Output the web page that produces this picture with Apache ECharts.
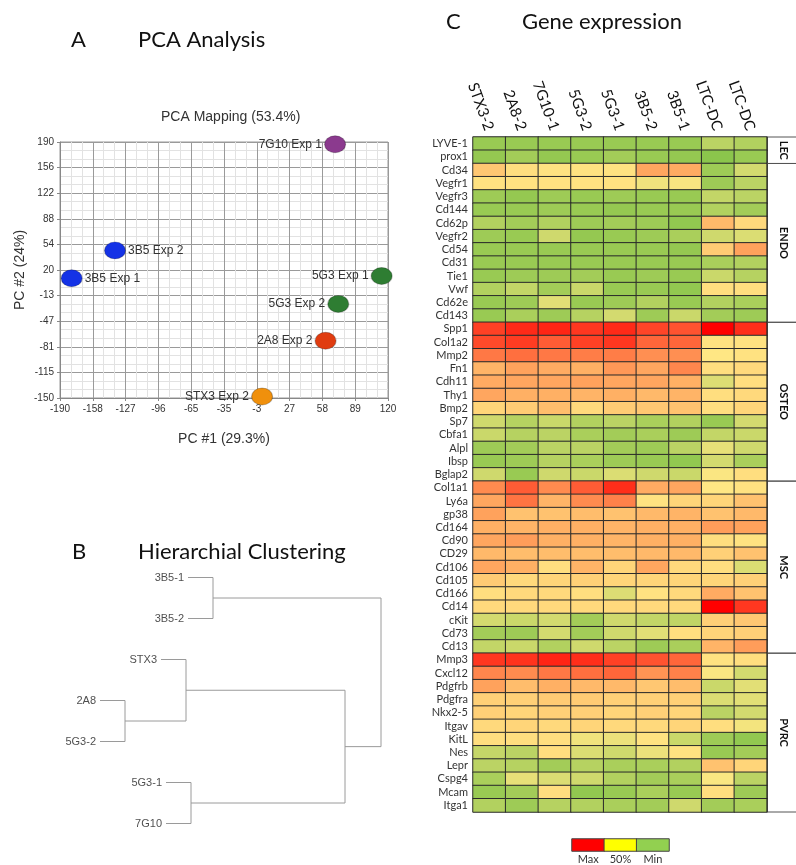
<!DOCTYPE html>
<html><head><meta charset="utf-8">
<script src="https://cdn.jsdelivr.net/npm/echarts@6/dist/echarts.min.js"></script>
<style>html,body{margin:0;padding:0;background:#fff}#c{width:796px;height:865px}</style>
</head><body><div id="c"></div>
<script>
// ---------- PCA ----------
const pcaNames = ['7G10 Exp 1','3B5 Exp 2','3B5 Exp 1','5G3 Exp 1','5G3 Exp 2','2A8 Exp 2','STX3 Exp 2'];
const pc1 = [70, -138, -179, 114, 73, 61, 1];
const pc2 = [187, 46, 9, 12, -25, -74, -148];
const pcaColors = ['#8b3a8e','#1432e6','#1432e6','#2e7d32','#2e7d32','#e03c10','#f0900c'];
const pcaLabelSide = ['left','right','right','left','left','left','left'];
const pc1Ticks = ['-190','-158','-127','-96','-65','-35','-3','27','58','89','120'];
const pc2Ticks = ['-150','-115','-81','-47','-13','20','54','88','122','156','190'];

// ---------- Dendrogram ----------
const leaves = ['3B5-1','3B5-2','STX3','2A8','5G3-2','5G3-1','7G10'];
// [childA, childB, merge height]; 'L#' = leaf index, 'M#' = merge index
const merges = [
  ['L3','L4',25],
  ['L2','M0',86],
  ['L5','L6',91],
  ['L0','L1',113],
  ['M1','M2',245],
  ['M3','M4',281]
];
const leafHang = 25;

// ---------- Heatmap ----------
const sampleNames = ['STX3-2','2A8-2','7G10-1','5G3-2','5G3-1','3B5-2','3B5-1','LTC-DC','LTC-DC'];
const lecGenes = ['LYVE-1','prox1'];
const lecValues = [
  [8,8,8,8,8,8,8,22,18],
  [6,12,6,8,12,8,6,2,8]
];
const endoGenes = ['Cd34','Vegfr1','Vegfr3','Cd144','Cd62p','Vegfr2','Cd54','Cd31','Tie1','Vwf','Cd62e','Cd143'];
const endoValues = [
  [57,52,51,51,51,64,63,10,32],
  [51,51,51,51,51,44,47,10,22],
  [10,6,10,8,10,8,8,25,22],
  [8,8,10,8,6,8,8,18,12],
  [18,12,18,10,12,10,5,60,53],
  [10,8,30,6,8,10,15,30,35],
  [8,8,8,8,8,8,6,56,65],
  [8,8,8,8,8,8,8,15,18],
  [8,10,10,12,8,10,8,28,20],
  [18,25,12,28,8,8,5,52,52],
  [8,10,38,8,10,18,8,18,15],
  [8,15,10,20,32,10,28,12,10]
];
const osteoGenes = ['Spp1','Col1a2','Mmp2','Fn1','Cdh11','Thy1','Bmp2','Sp7','Cbfa1','Alpl','Ibsp','Bglap2'];
const osteoValues = [
  [86,91,92,88,91,85,82,100,90],
  [84,87,80,86,88,78,78,51,51],
  [74,76,74,73,73,69,69,50,51],
  [61,65,63,62,67,64,71,52,53],
  [63,64,64,65,64,64,62,36,52],
  [64,62,62,61,62,60,61,52,53],
  [54,56,59,53,56,57,58,52,54],
  [30,20,28,18,22,15,18,8,32],
  [28,20,22,15,12,15,10,25,28],
  [10,12,22,22,12,10,22,40,30],
  [8,10,20,15,10,8,5,32,15],
  [30,8,30,28,35,30,28,48,52]
];
const mscGenes = ['Col1a1','Ly6a','gp38','Cd164','Cd90','CD29','Cd106','Cd105','Cd166','Cd14','cKit','Cd73','Cd13'];
const mscValues = [
  [70,80,70,80,90,63,64,50,51],
  [64,75,61,70,72,51,54,54,58],
  [65,58,58,59,58,60,61,58,60],
  [62,61,62,62,61,62,62,66,65],
  [64,66,62,62,61,62,62,52,51],
  [60,59,59,59,59,60,60,55,58],
  [64,62,52,61,54,64,53,52,35],
  [56,53,54,55,54,54,54,54,55],
  [52,53,53,52,36,51,53,63,58],
  [53,53,53,53,53,53,53,100,88],
  [32,28,32,12,30,25,24,55,57],
  [12,10,32,12,30,38,52,54,55],
  [25,28,18,30,22,10,15,61,66]
];
const pvrcGenes = ['Mmp3','Cxcl12','Pdgfrb','Pdgfra','Nkx2-5','Itgav','KitL','Nes','Lepr','Cspg4','Mcam','Itga1'];
const pvrcValues = [
  [88,89,92,90,86,82,78,51,52],
  [71,70,74,76,78,68,72,48,32],
  [65,59,62,60,60,57,59,28,38],
  [55,55,56,56,55,55,55,35,38],
  [55,54,55,55,54,55,54,22,32],
  [53,54,53,54,53,53,54,52,45],
  [52,52,52,44,42,51,28,10,5],
  [26,22,52,35,30,42,51,8,12],
  [22,20,12,20,15,15,18,58,54],
  [15,40,35,30,18,12,15,48,22],
  [8,12,52,5,8,15,8,52,10],
  [18,10,20,18,15,12,30,12,15]
];
const groupNames = ['LEC','ENDO','OSTEO','MSC','PVRC'];
const groupGenes = [lecGenes, endoGenes, osteoGenes, mscGenes, pvrcGenes];
const groupValues = [lecValues, endoValues, osteoValues, mscValues, pvrcValues];
const scaleLabels = ['Max','50%','Min'];

// ---------- build ----------
const genes = [].concat(...groupGenes);
const allValues = [].concat(...groupValues);
const heatData = [];
allValues.forEach((row, r) => row.forEach((v, c) => heatData.push([c, r, v])));
const groupRanges = [];
let acc = 0;
groupGenes.forEach((g, i) => { groupRanges.push([sampleNames.length - 1, acc, acc + g.length - 1]); acc += g.length; });

// dendrogram geometry from merges
const nodes = {};
leaves.forEach((n, i) => nodes['L' + i] = {y: i, x: null});
const segs = [];
merges.forEach((m, i) => {
  const a = nodes[m[0]], b = nodes[m[1]], h = m[2];
  if (a.x === null) a.x = h - leafHang;
  if (b.x === null) b.x = h - leafHang;
  nodes['M' + i] = {x: h, y: (a.y + b.y) / 2};
  segs.push({coords: [[a.x, a.y], [h, a.y], [h, b.y], [b.x, b.y]]});
});
const leafLabelData = leaves.map((n, i) => ({name: n, value: [nodes['L' + i].x, i]}));

const pcaData = pcaNames.map((n, i) => ({
  name: n, value: [pc1[i], pc2[i]],
  itemStyle: {color: pcaColors[i]},
  label: {position: pcaLabelSide[i]}
}));

const titleFont = 'Lato, "Open Sans", sans-serif';
const plotFont = '"Liberation Sans", Arial, sans-serif';

const chart = echarts.init(document.getElementById('c'), null, {renderer: 'canvas'});
chart.setOption({
  backgroundColor: '#fff',
  animation: false,
  title: [
    {text: 'A', left: 66, top: 24, textStyle: {fontFamily: titleFont, fontSize: 22, fontWeight: 'normal', color: '#111'}},
    {text: 'PCA Analysis', left: 133, top: 24, textStyle: {fontFamily: titleFont, fontSize: 22, fontWeight: 'normal', color: '#111'}},
    {text: 'PCA Mapping (53.4%)', left: 156, top: 105, textStyle: {fontFamily: plotFont, fontSize: 14, fontWeight: 'normal', color: '#333'}},
    {text: 'B', left: 67, top: 536, textStyle: {fontFamily: titleFont, fontSize: 22, fontWeight: 'normal', color: '#111'}},
    {text: 'Hierarchial Clustering', left: 133, top: 536, textStyle: {fontFamily: titleFont, fontSize: 22, fontWeight: 'normal', color: '#111'}},
    {text: 'C', left: 441, top: 6, textStyle: {fontFamily: titleFont, fontSize: 22, fontWeight: 'normal', color: '#111'}},
    {text: 'Gene expression', left: 517, top: 6, textStyle: {fontFamily: titleFont, fontSize: 22, fontWeight: 'normal', color: '#111'}}
  ],
  grid: [
    {left: 60, top: 142, width: 328, height: 256, show: true, borderColor: '#999', borderWidth: 1},
    {left: 100, top: 557, width: 300, height: 287},
    {left: 473, top: 137, width: 294, height: 675},
    {left: 572, top: 839, width: 97, height: 13}
  ],
  xAxis: [
    {type: 'value', gridIndex: 0, min: -190, max: 120, interval: 31,
     name: 'PC #1 (29.3%)', nameLocation: 'middle', nameGap: 34,
     nameTextStyle: {fontFamily: plotFont, fontSize: 14, color: '#333'},
     axisLine: {show: true, onZero: false, lineStyle: {color: '#888'}},
     axisTick: {show: true, length: 3, lineStyle: {color: '#888'}},
     axisLabel: {fontFamily: plotFont, fontSize: 10, color: '#333', margin: 6,
       formatter: v => pc1Ticks[Math.round((v + 190) / 31)] || ''},
     splitLine: {show: true, lineStyle: {color: '#9a9a9a'}},
     minorTick: {show: true, splitNumber: 3, length: 0, lineStyle: {opacity: 0}},
     minorSplitLine: {show: true, lineStyle: {color: '#e2e2e2'}}},
    {type: 'value', gridIndex: 1, min: 0, max: 300, show: false},
    {type: 'category', gridIndex: 2, position: 'top', data: sampleNames,
     axisLine: {show: false}, axisTick: {show: false},
     axisLabel: {interval: 0, rotate: 70, margin: 7, fontFamily: titleFont, fontSize: 15, color: '#111'}},
    {type: 'category', gridIndex: 3, data: scaleLabels,
     axisLine: {show: false}, axisTick: {show: false},
     axisLabel: {interval: 0, margin: 3, fontFamily: titleFont, fontSize: 11, color: '#333'}}
  ],
  yAxis: [
    {type: 'value', gridIndex: 0, min: -150, max: 190, interval: 34,
     name: 'PC #2 (24%)', nameLocation: 'middle', nameGap: 33,
     nameTextStyle: {fontFamily: plotFont, fontSize: 14, color: '#333'},
     axisLine: {show: true, onZero: false, lineStyle: {color: '#888'}},
     axisTick: {show: true, length: 3, lineStyle: {color: '#888'}},
     axisLabel: {fontFamily: plotFont, fontSize: 10, color: '#333', margin: 6,
       formatter: v => pc2Ticks[Math.round((v + 150) / 34)] || ''},
     splitLine: {show: true, lineStyle: {color: '#9a9a9a'}},
     minorTick: {show: true, splitNumber: 3, length: 0, lineStyle: {opacity: 0}},
     minorSplitLine: {show: true, lineStyle: {color: '#e2e2e2'}}},
    {type: 'value', gridIndex: 1, min: -0.5, max: 6.5, inverse: true, show: false},
    {type: 'category', gridIndex: 2, data: genes, inverse: true,
     axisLine: {show: false}, axisTick: {show: false},
     axisLabel: {interval: 0, margin: 5, fontFamily: titleFont, fontSize: 11, color: '#333'}},
    {type: 'category', gridIndex: 3, data: [''], show: false}
  ],
  visualMap: {
    type: 'continuous', show: false, min: 0, max: 100, seriesIndex: 3,
    inRange: {color: ['#86c44a', '#ffe784', '#ff0000']}
  },
  series: [
    {type: 'scatter', xAxisIndex: 0, yAxisIndex: 0, data: pcaData, clip: false,
     symbol: 'circle', symbolSize: [21, 17],
     itemStyle: {borderColor: 'rgba(0,0,0,0.25)', borderWidth: 1, opacity: 1},
     label: {show: true, formatter: '{b}', fontFamily: plotFont, fontSize: 12, color: '#333', distance: 2}},
    {type: 'lines', coordinateSystem: 'cartesian2d', xAxisIndex: 1, yAxisIndex: 1,
     polyline: true, silent: true, data: segs,
     lineStyle: {color: '#9a9a9a', width: 1, opacity: 1}},
    {type: 'scatter', xAxisIndex: 1, yAxisIndex: 1, data: leafLabelData, symbolSize: 0, silent: true,
     label: {show: true, position: 'left', distance: 4, formatter: '{b}', fontFamily: plotFont, fontSize: 11, color: '#222'}},
    {type: 'heatmap', xAxisIndex: 2, yAxisIndex: 2, data: heatData, silent: true,
     itemStyle: {borderColor: '#2a2a2a', borderWidth: 1}},
    {type: 'heatmap', xAxisIndex: 3, yAxisIndex: 3, silent: true,
     data: [
       {value: [0, 0, 1], itemStyle: {color: '#ff0000'}},
       {value: [1, 0, 1], itemStyle: {color: '#ffff00'}},
       {value: [2, 0, 1], itemStyle: {color: '#92d050'}}
     ],
     itemStyle: {borderColor: '#444', borderWidth: 1}},
    {type: 'custom', xAxisIndex: 2, yAxisIndex: 2, clip: false, silent: true,
     data: groupRanges, encode: {x: 0, y: 1},
     renderItem: function (params, api) {
       const c = api.value(0), s = api.value(1), e = api.value(2);
       const p1 = api.coord([c, s]), p2 = api.coord([c, e]);
       const sz = api.size([1, 1]);
       const right = p1[0] + sz[0] / 2;
       const top = p1[1] - sz[1] / 2, bottom = p2[1] + sz[1] / 2;
       const far = api.getWidth();
       return {type: 'group', children: [
         {type: 'line', shape: {x1: right, y1: top, x2: far, y2: top}, style: {stroke: '#555', lineWidth: 1}},
         {type: 'line', shape: {x1: right, y1: bottom, x2: far, y2: bottom}, style: {stroke: '#555', lineWidth: 1}},
         {type: 'line', shape: {x1: right, y1: top, x2: right, y2: bottom}, style: {stroke: '#222', lineWidth: 1}},
         {type: 'text', x: right + 17, y: (top + bottom) / 2, rotation: -Math.PI / 2,
          style: {text: groupNames[params.dataIndex], align: 'center', verticalAlign: 'middle',
                  font: 'bold 11px ' + titleFont, fill: '#111'}}
       ]};
     }}
  ]
});
</script>
</body></html>
